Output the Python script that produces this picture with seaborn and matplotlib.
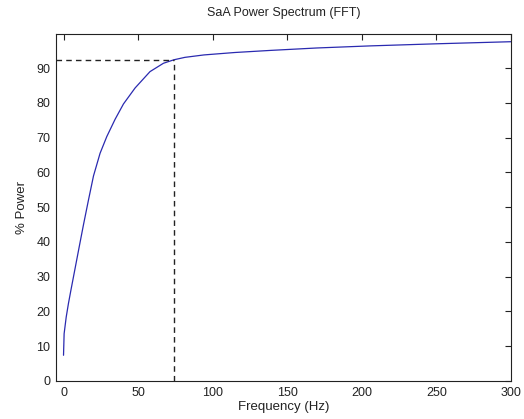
import matplotlib
matplotlib.use("Agg")
import matplotlib.pyplot as plt
import seaborn as sns
import pandas as pd

freq = [0, 0.4, 1.8, 3.3, 4.9, 7.8, 10.7, 13.4, 16.7, 20.1, 24.5, 29, 34.6, 40.2,
        48, 58, 67, 74, 81.4, 94.2, 115, 138.8, 170, 205.8, 250, 300]
power = [7.4, 13.6, 18.4, 22.3, 26.0, 32.5, 39.0, 45.0, 52.0, 59.0, 65.5, 70.3, 75.3, 79.7,
         84.3, 89.0, 91.4, 92.4, 93.1, 93.8, 94.5, 95.1, 95.8, 96.4, 97.0, 97.6]
cutoff_freq = 74
cutoff_power = 92.4
x_ticks = [0, 50, 100, 150, 200, 250, 300]
y_ticks = [0, 10, 20, 30, 40, 50, 60, 70, 80, 90]

sns.set_style("white")
plt.rcParams['font.family'] = ['Liberation Sans', 'DejaVu Sans']

df = pd.DataFrame({"Frequency (Hz)": freq, "% Power": power})

fig = plt.figure(figsize=(5.24, 4.19), dpi=100)
ax = fig.add_axes([0.107, 0.0907, 0.868, 0.828])
sns.lineplot(data=df, x="Frequency (Hz)", y="% Power", ax=ax, color="#2a2ab0", linewidth=0.9)
ax.plot([-5, cutoff_freq], [cutoff_power, cutoff_power], linestyle=(0, (4, 3)), color="#222222", linewidth=1.0)
ax.plot([cutoff_freq, cutoff_freq], [0, cutoff_power], linestyle=(0, (4, 3)), color="#222222", linewidth=1.0)

ax.set_xlim(-5, 300)
ax.set_ylim(0, 99.8)
ax.set_xticks(x_ticks)
ax.set_yticks(y_ticks)
ax.tick_params(direction="in", top=True, right=True, length=4, width=0.8, labelsize=9, colors="#222222", pad=4)
for s in ax.spines.values():
    s.set_color("#222222")
    s.set_linewidth(0.8)
ax.set_xlabel("Frequency (Hz)", fontsize=9.5, color="#222222", labelpad=2)
ax.set_ylabel("% Power", fontsize=9.5, color="#222222", labelpad=6)
ax.set_title("SaA Power Spectrum (FFT)", fontsize=9, color="#222222", pad=13)

fig.savefig("out.png", dpi=100)
